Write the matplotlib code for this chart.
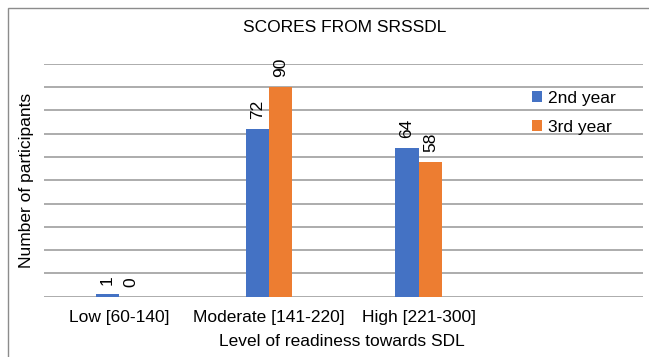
import matplotlib
matplotlib.use("Agg")
import matplotlib.pyplot as plt
from matplotlib.patches import Rectangle
import numpy as np

plt.rcParams['font.family'] = ['Liberation Sans', 'DejaVu Sans']

categories = ["Low [60-140]", "Moderate [141-220]", "High [221-300]"]
series_names = ["2nd year", "3rd year"]
second_year = [1, 72, 64]
third_year = [0, 90, 58]
colors = ["#4472C4", "#ED7D31"]

W, H = 649, 357
fig = plt.figure(figsize=(W / 100, H / 100), dpi=100)

# plot area in pixel coordinates
left, right, top, bottom = 44.3, 643.3, 63.7, 296.7
ax = fig.add_axes([left / W, 1 - bottom / H, (right - left) / W, (bottom - top) / H])

x = np.arange(len(categories))
bw = 0.156
fs = 12.5
for i, (vals, name, c) in enumerate(zip([second_year, third_year], series_names, colors)):
    pos = x + (i - 0.5) * bw
    ax.bar(pos, vals, width=bw, color=c, label=name, zorder=3)
    for p, v in zip(pos, vals):
        ax.annotate(str(v), (p, v), xytext=(0, 7), textcoords="offset points",
                    rotation=90, ha="center", va="bottom", fontsize=fs,
                    annotation_clip=False)

ax.set_xlim(-0.5, 3.5)
ax.set_ylim(0, 100)
ax.set_yticks(np.arange(0, 101, 10))
ax.yaxis.grid(True, color="#A6A6A6", linewidth=1.3, zorder=0)
ax.tick_params(axis="y", left=False, labelleft=False)
ax.set_xticks(x)
ax.set_xticklabels(categories, fontsize=fs)
ax.tick_params(axis="x", bottom=False, pad=6)
for s in ax.spines.values():
    s.set_visible(False)

fig.text(345 / W, 1 - 28 / H, "SCORES FROM SRSSDL", ha="center", va="center", fontsize=fs)
fig.text(342 / W, 1 - 342 / H, "Level of readiness towards SDL", ha="center", va="center", fontsize=fs)
fig.text(27 / W, 1 - 180 / H, "Number of participants", ha="center", va="center",
         rotation=90, fontsize=fs)

fig.legend(loc="upper left", bbox_to_anchor=(525 / W, 1 - 84 / H), frameon=False,
           fontsize=fs, handlelength=0.6, handleheight=0.6, handletextpad=0.3,
           labelspacing=0.8, borderaxespad=0)

# outer chart frame
fig.patches.append(Rectangle((8 / W, -0.1), 1.2, (H - 8) / H + 0.1, transform=fig.transFigure,
                             fill=False, edgecolor="#8C8C8C", linewidth=1.0))

fig.savefig("out.png", dpi=100)
